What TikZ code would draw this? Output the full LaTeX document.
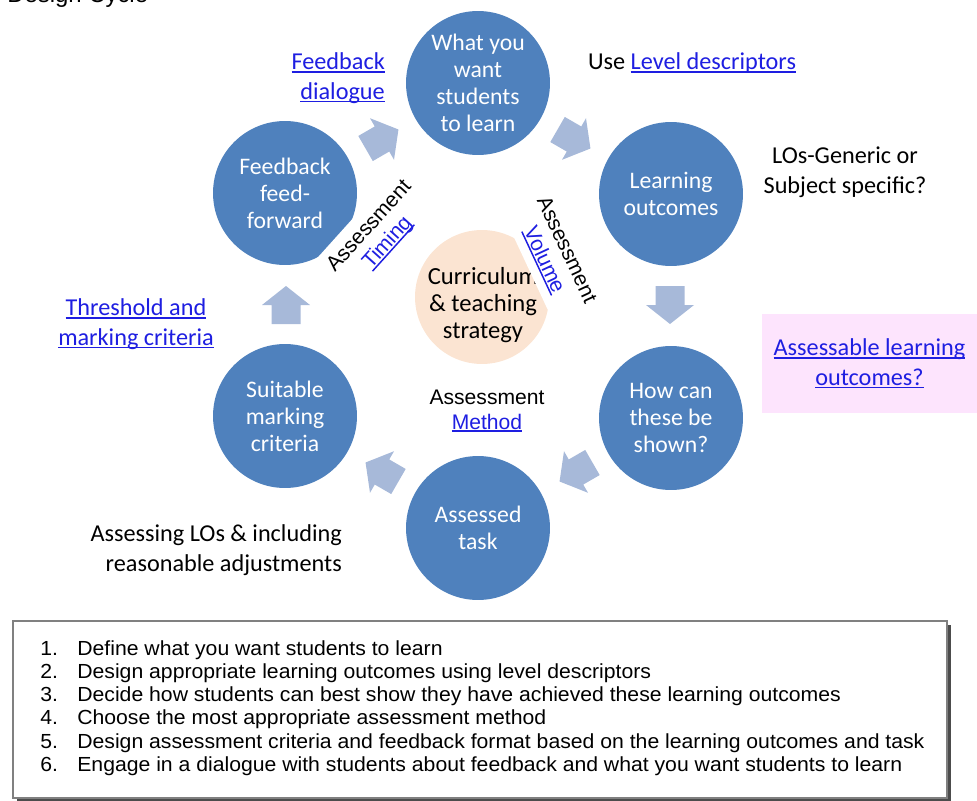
\documentclass[tikz,border=0pt]{standalone}
\usepackage{fontspec}
\setmainfont{Carlito}
\newfontfamily\arialfont{Liberation Sans}
\newfontfamily\listfont[FakeStretch=1.04]{Liberation Sans}
\usetikzlibrary{arrows.meta}

\definecolor{cycleblue}{RGB}{79,129,189}
\definecolor{arrowblue}{RGB}{167,185,217}
\definecolor{peach}{RGB}{251,228,210}
\definecolor{pinkbox}{RGB}{253,228,253}
\definecolor{linkblue}{RGB}{30,30,225}

% blue link text with a plain underline close to the baseline
\newcommand{\lnk}[1]{\textcolor{linkblue}{\setbox0\hbox{#1}\rlap{\rule[-0.13em]{\wd0}{0.07em}}\box0}}

\tikzset{
  stage/.style={circle, fill=cycleblue, text=white, minimum size=2.88cm, inner sep=0pt,
    align=center, font=\fontsize{13.5}{15.4}\selectfont},
  note/.style={align=center, font=\fontsize{13.8}{16.8}\selectfont},
  asmt/.style={align=center, fill=white, inner xsep=2pt, inner ysep=5pt,
    font=\arialfont\fontsize{12}{14}\selectfont},
  listline/.style={anchor=base west, inner sep=0pt, font=\listfont\fontsize{11.6}{13.3}\selectfont},
  cyclearrow/.pic={\fill[arrowblue] (-19,-14.5) -- (0,-14.5) -- (0,-24) -- (19,0) -- (0,24) -- (0,14.5) -- (-19,14.5) -- cycle;}
}

\begin{document}
\begin{tikzpicture}[x=0.02cm,y=-0.02cm]
\useasboundingbox (0,0) rectangle (977,801);

\node[anchor=base west, inner sep=0pt, font=\arialfont\fontsize{13.6}{16}\selectfont] (title) at (7,3) {Design Cycle};

% centre of the cycle
\node[circle, fill=peach, minimum size=2.68cm, inner sep=0pt] (core) at (482,297) {};
\node[note, font=\fontsize{14}{15.4}\selectfont] (coretext) at (483,305) {Curriculum\\\& teaching\\strategy};

% the six stages
\node[stage] (want) at (478,83) {What you\\want\\students\\to learn};
\node[stage] (outcomes) at (671,194) {Learning\\outcomes};
\node[stage] (shown) at (671,418) {How can\\these be\\shown?};
\node[stage] (task) at (478,528) {Assessed\\task};
\node[stage] (criteria) at (285,416) {Suitable\\marking\\criteria};
\node[stage] (feedback) at (285,193) {Feedback\\feed-\\forward};

% assessment labels round the centre
\node[asmt, rotate=48] (timing) at (379,235) {Assessment\\\lnk{Timing}};
\node[asmt, rotate=-65] (volume) at (555,255) {Assessment\\\lnk{Volume}};
\node[asmt, fill=none] (method) at (487,411) {Assessment\\\lnk{Method}};

% arrows between the stages
\pic[rotate=-30] at (574,139) {cyclearrow};
\pic[rotate=-90] at (670,305) {cyclearrow};
\pic[rotate=-150] at (576,472) {cyclearrow};
\pic[rotate=150] at (382,472) {cyclearrow};
\pic[rotate=90] at (286,305) {cyclearrow};
\pic[rotate=30] at (382,139) {cyclearrow};

% notes outside the cycle
\node[note, align=right, anchor=east] (dialogue) at (391,78) {\lnk{Feedback}\\\lnk{dialogue}};
\node[note] (descriptors) at (692,63) {Use \lnk{Level descriptors}};
\node[note] (generic) at (845,172) {LOs-Generic or\\Subject specific?};
\node[note, fill=pinkbox, minimum width=4.3cm, minimum height=1.98cm] (assessable) at (869.5,363.5) {\lnk{Assessable learning}\\\lnk{outcomes?}};
\node[note] (threshold) at (136,324) {\lnk{Threshold and}\\\lnk{marking criteria}};
\node[note, align=right, anchor=east] (adjust) at (348,550) {Assessing LOs \& including\\reasonable adjustments};

% list of steps
\fill[black!70] (17,625) rectangle (951,801);
\draw[fill=white, draw=black!50, line width=1.2pt] (13,621) rectangle (947,798);

\node[listline] (item1) at (40,655) {\makebox[0.74cm][l]{1.}Define what you want students to learn};
\node[listline] (item2) at (40,678.3) {\makebox[0.74cm][l]{2.}Design appropriate learning outcomes using level descriptors};
\node[listline] (item3) at (40,701.6) {\makebox[0.74cm][l]{3.}Decide how students can best show they have achieved these learning outcomes};
\node[listline] (item4) at (40,724.9) {\makebox[0.74cm][l]{4.}Choose the most appropriate assessment method};
\node[listline] (item5) at (40,748.2) {\makebox[0.74cm][l]{5.}Design assessment criteria and feedback format based on the learning outcomes and task};
\node[listline] (item6) at (40,771.5) {\makebox[0.74cm][l]{6.}Engage in a dialogue with students about feedback and what you want students to learn};
\end{tikzpicture}
\end{document}
